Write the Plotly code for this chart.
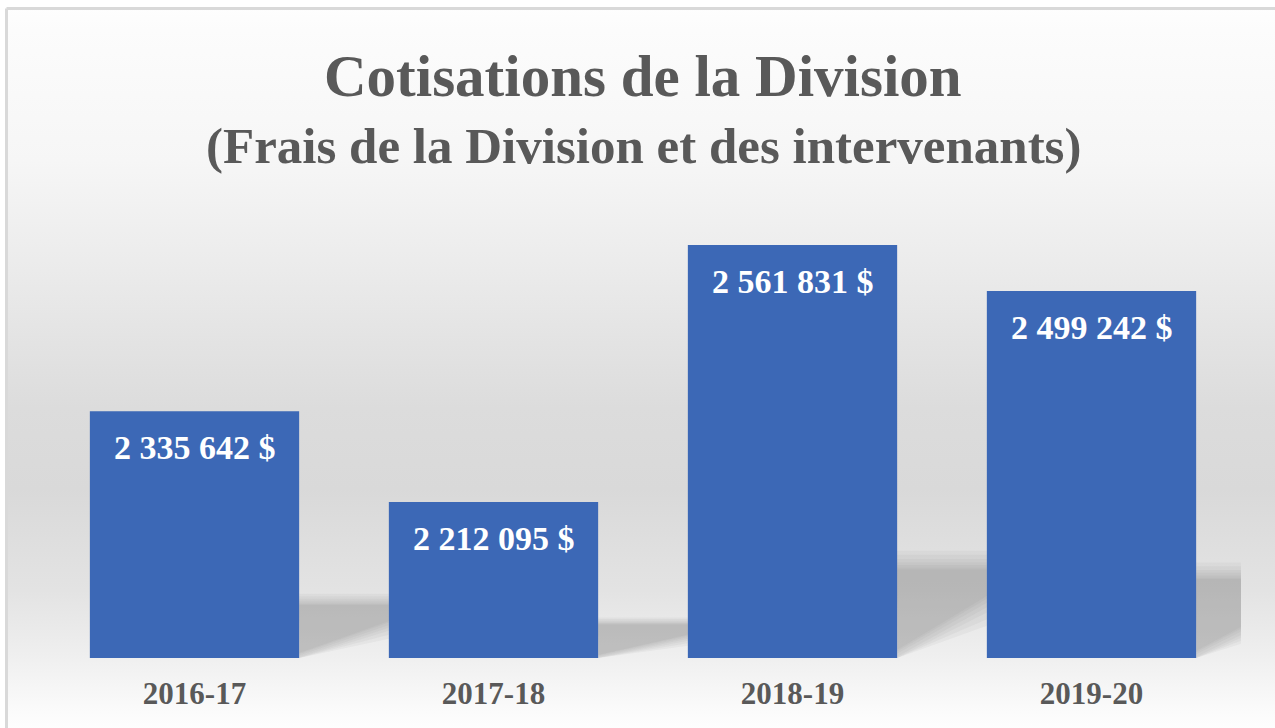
import base64
import plotly.graph_objects as go

# ---- data ----
categories = ["2016-17", "2017-18", "2018-19", "2019-20"]
values = [2335642, 2212095, 2561831, 2499242]
value_labels = ["2 335 642 $", "2 212 095 $", "2 561 831 $", "2 499 242 $"]
title_line1 = "Cotisations de la Division"
title_line2 = "(Frais de la Division et des intervenants)"

# ---- layout constants ----
W, H = 1275, 728
ML, MR, MT, MB = 45, 34, 217, 70
PW, PH = W - ML - MR, H - MT - MB
Y_MIN, Y_MAX = 2000000, 2600000
FONT = "Liberation Serif"
GREY_TEXT = "#595959"


def py_to_paper(py):
    return (H - MB - py) / PH


# background: gradient + border, as an SVG image covering the whole figure
svg = f'''<svg xmlns="http://www.w3.org/2000/svg" width="{W}" height="{H}" viewBox="0 0 {W} {H}" preserveAspectRatio="none">
<defs><linearGradient id="g" x1="0" y1="0" x2="0" y2="1">
<stop offset="0" stop-color="#fefefe"/>
<stop offset="0.03" stop-color="#fcfcfc"/>
<stop offset="0.21" stop-color="#f6f6f6"/>
<stop offset="0.36" stop-color="#ebebeb"/>
<stop offset="0.55" stop-color="#dcdcdc"/>
<stop offset="0.66" stop-color="#d9d9d9"/>
<stop offset="0.80" stop-color="#e3e3e3"/>
<stop offset="0.89" stop-color="#efefef"/>
<stop offset="0.96" stop-color="#fafafa"/>
<stop offset="1" stop-color="#ffffff"/>
</linearGradient></defs>
<rect x="0" y="0" width="{W}" height="{H}" fill="#ffffff"/>
<rect x="6" y="8" width="{W}" height="{H}" fill="url(#g)"/>
<line x1="6.5" y1="8.5" x2="{W}" y2="8.5" stroke="#d9d9d9" stroke-width="3"/>
<line x1="6.5" y1="8.5" x2="6.5" y2="{H}" stroke="#d9d9d9" stroke-width="3"/>
</svg>'''
svg_uri = "data:image/svg+xml;base64," + base64.b64encode(svg.encode()).decode()

fig = go.Figure()
fig.add_trace(go.Bar(
    x=categories, y=values,
    marker=dict(color="#3c68b6", line=dict(width=0)),
    hoverinfo="skip",
))

# soft shadows behind the bars (perspective-like), in category units
shapes = []
half = 0.35
for i, v in enumerate(values):
    h = v - Y_MIN
    xr = i + half
    xw = xr + 0.30
    for grow in [0.045, 0.035, 0.025, 0.017, 0.01, 0.004, 0.0]:
        top = Y_MIN + (0.215 + grow) * h
        ll = Y_MIN + max(0.0, 0.02 - grow) * h
        lr = Y_MIN + max(0.02, 0.15 - 1.6 * grow) * h
        path = f"M {xr},{top} L {xw},{top} L {xw},{lr} L {xr},{ll} Z"
        shapes.append(dict(type="path", xref="x", yref="y", path=path,
                           fillcolor="rgba(125,125,125,0.065)",
                           line=dict(width=0), layer="below"))

annotations = []
for c, v, t in zip(categories, values, value_labels):
    annotations.append(dict(x=c, y=v, xref="x", yref="y", text=f"<b>{t}</b>",
                            showarrow=False, yanchor="middle", yshift=-36,
                            font=dict(family=FONT, size=34, color="#ffffff")))

annotations.append(dict(x=0.5, y=py_to_paper(76), xref="paper", yref="paper",
                        text=f"<b>{title_line1}</b>", showarrow=False,
                        xanchor="center", yanchor="middle",
                        font=dict(family=FONT, size=59, color=GREY_TEXT)))
annotations.append(dict(x=0.5, y=py_to_paper(146), xref="paper", yref="paper",
                        text=f"<b>{title_line2}</b>", showarrow=False,
                        xanchor="center", yanchor="middle",
                        font=dict(family=FONT, size=51, color=GREY_TEXT)))

fig.update_layout(
    width=W, height=H,
    margin=dict(l=ML, r=MR, t=MT, b=MB),
    paper_bgcolor="#ffffff",
    plot_bgcolor="rgba(0,0,0,0)",
    bargap=0.3,
    showlegend=False,
    hovermode=False,
    shapes=shapes,
    annotations=annotations,
    images=[dict(source=svg_uri, xref="paper", yref="paper",
                 x=-ML / PW, y=1 + MT / PH, sizex=W / PW, sizey=H / PH,
                 xanchor="left", yanchor="top", sizing="stretch",
                 layer="below")],
    xaxis=dict(showgrid=False, zeroline=False, showline=False, ticks="",
               tickfont=dict(family=FONT, size=31, color=GREY_TEXT),
               ticklabelstandoff=14, range=[-0.5, 3.5],
               tickprefix="<b>", ticksuffix="</b>"),
    yaxis=dict(range=[Y_MIN, Y_MAX], visible=False, showgrid=False),
)

fig.write_html("out.html", config={"displayModeBar": False},
               post_script="document.body.style.margin='0';")
